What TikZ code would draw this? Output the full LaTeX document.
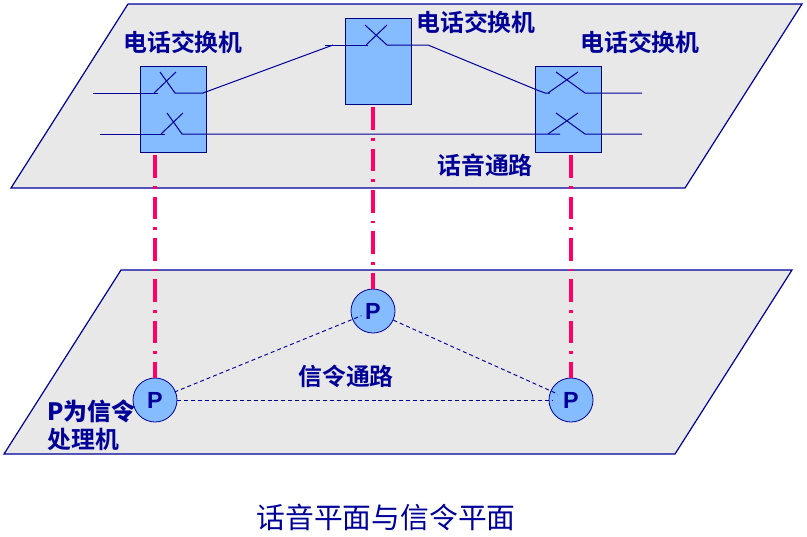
\documentclass[tikz,border=0pt]{standalone}
\usepackage{fontspec}
\setmainfont{Liberation Sans}
\newfontfamily\cjk{Noto Sans CJK SC}
\newfontfamily\cjkb{Noto Sans CJK SC Bold}
\definecolor{navy}{HTML}{000099}
\definecolor{planefill}{HTML}{E8E8E8}
\definecolor{boxfill}{HTML}{85BBFF}
\definecolor{signal}{HTML}{FF0066}
\tikzset{
  plane/.style={draw=navy,fill=planefill,line width=.9pt},
  swbox/.style={draw=navy!85!black,fill=boxfill,line width=.75pt,minimum width=66*.75pt,minimum height=86*.75pt,inner sep=0pt},
  pnode/.style={circle,draw=navy,fill=boxfill,line width=.6pt,minimum size=44*.75pt,inner sep=0pt,font=\fontsize{17.5}{18}\selectfont\bfseries,text=navy},
  lab/.style={text=navy,inner sep=0pt,font=\cjkb\fontsize{17.9}{21}\selectfont},
  wire/.style={draw=navy,line width=.75pt},
  link/.style={draw=navy,line width=.7pt,dash pattern=on 3pt off 2.2pt},
  sig/.style={draw=signal,line width=2.3pt,dash pattern=on 17pt off 6pt on 2pt off 6pt,shorten <=2pt},
}
\begin{document}
\begin{tikzpicture}[x=.75pt,y=-.75pt]
\useasboundingbox (0,0) rectangle (807,536);
% planes
\draw[plane] (128,4) -- (802,4) -- (685,188) -- (11,188) -- cycle;
\draw[plane] (121,270) -- (792,270) -- (675,454) -- (4,454) -- cycle;
% boxes
\node[swbox] (s1) at (173,109) {};
\node[swbox] (s2) at (378,61) {};
\node[swbox] (s3) at (568,109) {};
% P nodes
\node[pnode] (p1) at (155,400) {P};
\node[pnode] (p2) at (373,311) {P};
\node[pnode] (p3) at (571,400) {P};
% signalling ties
\draw[sig] (p1 |- s1.south) -- (p1.north);
\draw[sig] (p2 |- s2.south) -- (p2.north);
\draw[sig] (p3 |- s3.south) -- (p3.north);
% signalling links
\draw[link,shorten >=-10*.75pt,shorten <=-1pt] (p1) -- (p2);
\draw[link,shorten >=-8*.75pt] (p2) -- (p3);
\draw[link,shorten >=-4*.75pt] (p1) -- (p3);
% free ends
\coordinate (a) at (93,93);
\coordinate (b) at (100,134);
\coordinate (c) at (642,93);
\coordinate (d) at (642,134);
% top path
\draw[wire] (a) -- (158,93);
\draw[wire] (154,93) -- (176,72);
\draw[wire] (160,72) -- (175,93) -- (203,93) -- (333,45);
\draw[wire] (325,45) -- (368,45);
\draw[wire] (366,45) -- (387,25);
\draw[wire] (365,25) -- (387,45) -- (428,45) -- (537,90) -- (545,93) -- (550,93);
\draw[wire] (548,93) -- (578,72);
\draw[wire] (556,72) -- (585,93) -- (c);
% lower path
\draw[wire] (b) -- (165,134);
\draw[wire] (161,134) -- (183,113);
\draw[wire] (167,113) -- (182,134) -- (560,134);
\draw[wire] (548,134) -- (578,113);
\draw[wire] (556,113) -- (585,134) -- (d);
% labels
\node[lab] at (183,42) {\cjkb 电话交换机};
\node[lab] at (476,22) {\cjkb 电话交换机};
\node[lab] at (640,42) {\cjkb 电话交换机};
\node[lab] at (485,165) {\cjkb 话音通路};
\node[lab] at (346,376) {\cjkb 信令通路};
\node[lab,anchor=west] at (47,411) {\bfseries\fontsize{17.9}{21}\selectfont P\cjkb 为信令};
\node[lab,anchor=west] at (47,439) {\cjkb 处理机};
\node[text=navy,inner sep=0pt,font=\cjk\fontsize{21.6}{26}\selectfont] at (386,518) {话音平面与信令平面};
\end{tikzpicture}
\end{document}
